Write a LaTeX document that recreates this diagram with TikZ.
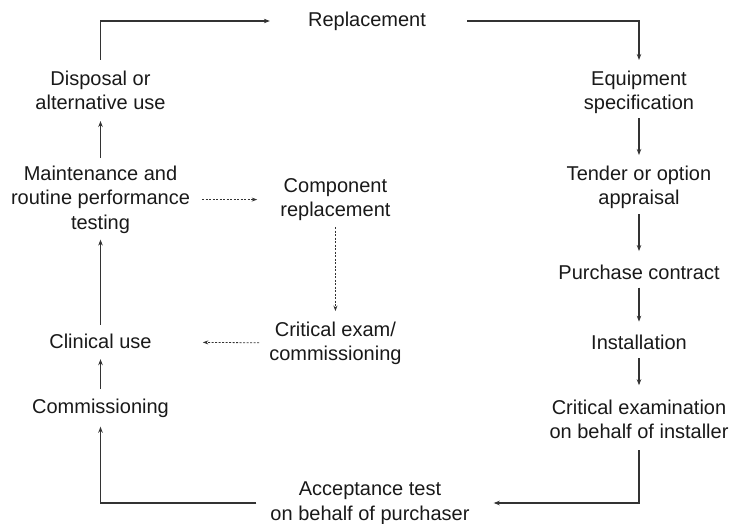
\documentclass[tikz,border=0pt]{standalone}
\usepackage{fontspec}
\setmainfont{Liberation Sans}
\usetikzlibrary{arrows.meta,positioning}
\definecolor{linegray}{rgb}{0.2,0.2,0.2}
\definecolor{textgray}{rgb}{0.1,0.1,0.1}

\begin{document}
\begin{tikzpicture}[
      x=1pt, y=-1pt,
      stage/.style={align=center, inner sep=0pt, text=textgray, font=\fontsize{20}{24.5}\selectfont},
      arrow/.style={->, >={Stealth[length=6pt, width=4.5pt]}, line width=1.1pt, color=linegray},
      side/.style={->, >={Stealth[length=5.5pt, width=4pt]}, line width=0.8pt, color=linegray, dash pattern=on 2pt off 1.5pt}
    ]
      \useasboundingbox (0,0) rectangle (731,524);

      \node[stage] (repl) at (367,21) {Replacement};

      % right column
      \node[stage] (equip) at (639,92.25) {Equipment\\specification};
      \node[stage, below=51.5pt of equip] (tender) {Tender or option\\appraisal};
      \node[stage, below=55.5pt of tender] (purch) {Purchase contract};
      \node[stage, below=55.5pt of purch] (install) {Installation};
      \node[stage, below=49.5pt of install] (critinst) {Critical examination\\on behalf of installer};

      \node[stage] (accept) at (370,503) {Acceptance test\\on behalf of purchaser};

      % left column
      \node[stage] (disp) at (100.5,90.25) {Disposal or\\alternative use};
      \node[stage, below=55.5pt of disp] (maint) {Maintenance and\\routine performance\\testing};
      \node[stage, below=100.5pt of maint] (clin) {Clinical use};
      \node[stage, below=49.5pt of clin] (comm) {Commissioning};

      % middle
      \node[stage, right=90pt of maint] (comp) {Component\\replacement};
      \node[stage, below=100.5pt of comp] (crit) {Critical exam/\\commissioning};

      \draw[arrow, shorten <=10.5pt, shorten >=38pt] (disp) |- (repl);
      \draw[arrow, shorten <=41pt, shorten >=10.5pt] (repl) -| (equip);
      \draw[arrow, shorten <=4pt, shorten >=10.5pt] (equip) -- (tender);
      \draw[arrow, shorten <=5pt, shorten >=13.5pt] (tender) -- (purch);
      \draw[arrow, shorten <=8pt, shorten >=13.5pt] (purch) -- (install);
      \draw[arrow, shorten <=8pt, shorten >=14.5pt] (install) -- (critinst);
      \draw[arrow, shorten <=11pt, shorten >=24pt] (critinst) |- (accept);
      \draw[arrow, shorten <=14pt, shorten >=9pt] (accept) -| (comm);
      \draw[arrow, shorten <=9.5pt, shorten >=10pt] (comm) -- (clin);
      \draw[arrow, shorten <=9.5pt, shorten >=6pt] (clin) -- (maint);
      \draw[arrow, shorten <=7.5pt, shorten >=11pt] (maint) -- (disp);

      \draw[side, shorten <=12pt, shorten >=23pt] (maint) -- (comp);
      \draw[side, shorten <=6pt, shorten >=10.5pt] (comp) -- (crit);
      \draw[side, shorten <=10pt, shorten >=51pt] (crit) -- (clin);
    \end{tikzpicture}
\end{document}
